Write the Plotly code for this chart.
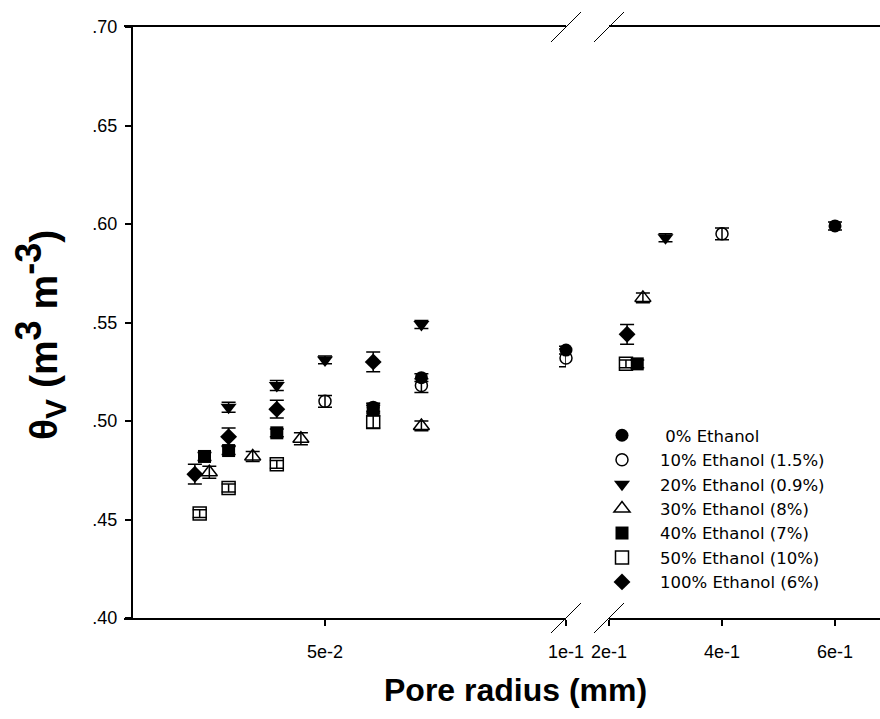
import plotly.graph_objects as go

# ---------------- data ----------------
series_names = ["\u00a00% Ethanol", "10% Ethanol (1.5%)", "20% Ethanol (0.9%)",
                "30% Ethanol (8%)", "40% Ethanol (7%)", "50% Ethanol (10%)",
                "100% Ethanol (6%)"]

x_0 = [0.06, 0.07, 0.10, 0.60]
y_0 = [0.507, 0.522, 0.536, 0.599]
e_0 = [0.002, 0.002, 0.002, 0.002]

x_10 = [0.05, 0.07, 0.10, 0.40]
y_10 = [0.510, 0.518, 0.532, 0.595]
e_10 = [0.003, 0.0035, 0.0045, 0.003]

x_20 = [0.03, 0.04, 0.05, 0.07, 0.30]
y_20 = [0.507, 0.518, 0.531, 0.549, 0.593]
e_20 = [0.0025, 0.0025, 0.002, 0.002, 0.002]

x_30 = [0.026, 0.035, 0.045, 0.07, 0.26]
y_30 = [0.474, 0.482, 0.491, 0.4975, 0.5625]
e_30 = [0.003, 0.0025, 0.003, 0.0025, 0.0025]

x_40 = [0.025, 0.03, 0.04, 0.06, 0.25]
y_40 = [0.482, 0.485, 0.494, 0.506, 0.529]
e_40 = [0.002, 0.002, 0.002, 0.002, 0.002]

x_50 = [0.024, 0.03, 0.04, 0.06, 0.23]
y_50 = [0.453, 0.466, 0.478, 0.4995, 0.529]
e_50 = [0.002, 0.002, 0.002, 0.003, 0.002]

x_100 = [0.023, 0.03, 0.04, 0.06, 0.232]
y_100 = [0.473, 0.492, 0.506, 0.530, 0.544]
e_100 = [0.005, 0.0045, 0.0045, 0.005, 0.005]

y_tickvals = [0.40, 0.45, 0.50, 0.55, 0.60, 0.65, 0.70]
y_ticktext = [".40", ".45", ".50", ".55", ".60", ".65", ".70"]
xl_tickvals = [0.05, 0.10]
xl_ticktext = ["5e-2", "1e-1"]
xr_tickvals = [0.2, 0.4, 0.6]
xr_ticktext = ["2e-1", "4e-1", "6e-1"]

break_low = 0.10
break_high = 0.20

# ---------------- styles ----------------
all_x = [x_0, x_10, x_20, x_30, x_40, x_50, x_100]
all_y = [y_0, y_10, y_20, y_30, y_40, y_50, y_100]
all_e = [e_0, e_10, e_20, e_30, e_40, e_50, e_100]
symbols = ["circle", "circle-open", "triangle-down", "triangle-up-open",
           "square", "square-open", "diamond"]
sizes = [13, 12, 14, 14, 13, 13, 13]

FONT = "Liberation Sans, Arial, sans-serif"
W, H = 880, 719
L, R, T, B = 124, 0, 27, 101
pw = W - L - R
ph = H - T - B

def px_x(p):
    return (p - L) / pw

def px_y(p):
    return (H - B - p) / ph

fig = go.Figure()
for i in range(7):
    xs, ys, es = all_x[i], all_y[i], all_e[i]
    for seg, axis in ((0, "x"), (1, "x2")):
        idx = [k for k, v in enumerate(xs) if (v <= break_low if seg == 0 else v >= break_high)]
        if not idx:
            continue
        fig.add_trace(go.Scatter(
            x=[xs[k] for k in idx], y=[ys[k] for k in idx],
            xaxis=axis, yaxis="y",
            mode="markers", name=series_names[i],
            legendgroup=series_names[i], showlegend=(seg == 0),
            marker=dict(symbol=symbols[i], size=sizes[i], color="black",
                        line=dict(color="black", width=1.5 if "open" in symbols[i] else 0)),
            error_y=dict(type="data", array=[es[k] for k in idx], visible=True,
                         color="black", thickness=1.5, width=7),
            cliponaxis=False,
        ))

axis_common = dict(showline=True, linecolor="black", linewidth=2, mirror=True,
                   ticks="outside", ticklen=6, tickwidth=1.5, tickcolor="black",
                   showgrid=False, zeroline=False, automargin=False,
                   ticklabelstandoff=10,
                   tickfont=dict(family=FONT, size=18, color="black"))

fig.update_layout(
    template="none",
    width=W, height=H, autosize=False,
    margin=dict(l=L, r=R, t=T, b=B, pad=0, autoexpand=False),
    paper_bgcolor="white", plot_bgcolor="white",
    font=dict(family=FONT, color="black"),
    xaxis=dict(domain=[0, px_x(566)], range=[0.05 - (325 - L) * 0.05 / 241, break_low],
               tickvals=xl_tickvals, ticktext=xl_ticktext, anchor="y", **axis_common),
    xaxis2=dict(domain=[px_x(609), 1], range=[break_high, break_high + (W - 609) * 0.2 / 113],
                tickvals=xr_tickvals, ticktext=xr_ticktext, anchor="y", **axis_common),
    yaxis=dict(domain=[0, 1], range=[0.40, 0.70], anchor="free", position=px_x(132),
               tickvals=y_tickvals, ticktext=y_ticktext,
               showline=True, linecolor="black", linewidth=2,
               ticks="outside", ticklen=6, tickwidth=1.5, tickcolor="black",
               showgrid=False, zeroline=False, automargin=False,
               ticklabelstandoff=4,
               tickfont=dict(family=FONT, size=18, color="black")),
    legend=dict(x=px_x(584), y=px_y(418), xanchor="left", yanchor="top",
                bgcolor="rgba(0,0,0,0)", borderwidth=0, itemwidth=66,
                font=dict(family="DejaVu Sans, sans-serif", size=16.5, color="black"),
                tracegroupgap=0, itemsizing="trace"),
    showlegend=True,
)

# axis-break slashes (drawn at both ends of the gap, top and bottom)
shapes = []
for xp in (px_x(566), px_x(609)):
    for yv in (0.0, 1.0):
        shapes.append(dict(type="line", xref="paper", yref="paper",
                           xsizemode="pixel", ysizemode="pixel",
                           xanchor=xp, yanchor=yv,
                           x0=-15, x1=15, y0=-15, y1=15,
                           line=dict(color="black", width=1)))
fig.update_layout(shapes=shapes)

fig.add_annotation(text="<b>Pore radius (mm)</b>", xref="paper", yref="paper",
                   x=px_x(515), y=px_y(690), xanchor="center", yanchor="middle",
                   showarrow=False, font=dict(family=FONT, size=32, color="black"))
fig.add_annotation(
    text="<b>θ<sub><span style='font-size:30px'>V</span></sub> (m<sup><span style='font-size:36px'>3</span></sup> m<sup><span style='font-size:36px'>-3</span></sup>)</b>",
    xref="paper", yref="paper", x=px_x(40), y=px_y(335),
    xanchor="center", yanchor="middle", textangle=-90,
    showarrow=False, font=dict(family=FONT, size=39, color="black"))

fig.write_html("out.html")
